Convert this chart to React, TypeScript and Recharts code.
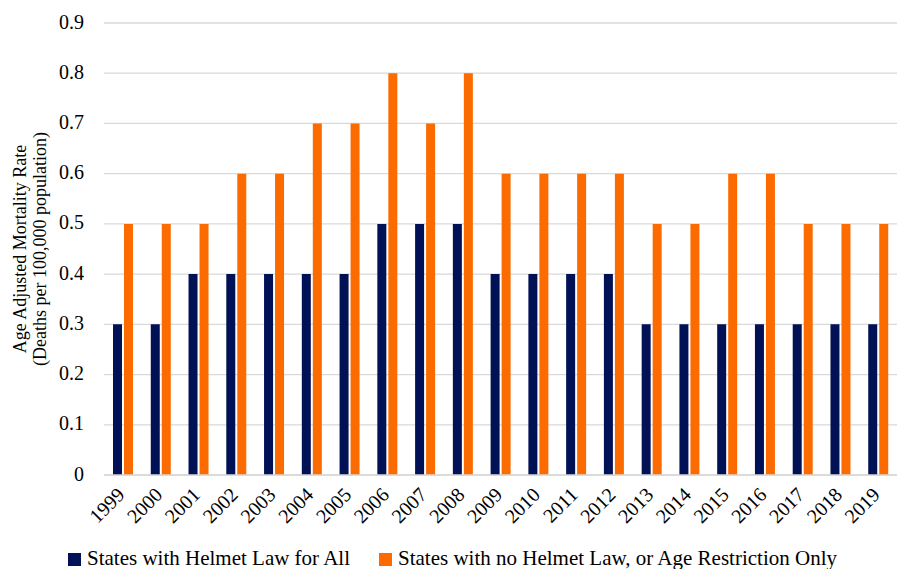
import React from "react";
import { BarChart, Bar, XAxis, YAxis, CartesianGrid, Legend } from "recharts";

const years = ["1999","2000","2001","2002","2003","2004","2005","2006","2007","2008","2009","2010","2011","2012","2013","2014","2015","2016","2017","2018","2019"];
const helmetAll = [0.3,0.3,0.4,0.4,0.4,0.4,0.4,0.5,0.5,0.5,0.4,0.4,0.4,0.4,0.3,0.3,0.3,0.3,0.3,0.3,0.3];
const noHelmet = [0.5,0.5,0.5,0.6,0.6,0.7,0.7,0.8,0.7,0.8,0.6,0.6,0.6,0.6,0.5,0.5,0.6,0.6,0.5,0.5,0.5];
const yTicks = [0,0.1,0.2,0.3,0.4,0.5,0.6,0.7,0.8,0.9];
const seriesNames = ["States with Helmet Law for All", "States with no Helmet Law, or Age Restriction Only"];

const NAVY = "#001155";
const ORANGE = "#fb6b00";
const FONT = "Liberation Serif";

const data = years.map((y, i) => ({ year: y, a: helmetAll[i], b: noHelmet[i] }));

const XTick = (props: any) => {
  const { x, y, payload } = props;
  return (
    <g transform={`translate(${x + 3},${y + 13})`}>
      <text textAnchor="end" transform="rotate(-45)" fontFamily={FONT} fontSize={20} fill="#000">
        {payload.value}
      </text>
    </g>
  );
};

const YTick = (props: any) => {
  const { x, y, payload } = props;
  return (
    <text x={x - 12} y={y} dy={5.5} textAnchor="end" fontFamily={FONT} fontSize={20} fill="#000">
      {payload.value === 0 ? "0" : payload.value.toFixed(1)}
    </text>
  );
};

const YTitle = (props: any) => {
  const vb = props.viewBox || {};
  const cy = vb.y + vb.height / 2;
  const cx = 26;
  return (
    <text transform={`translate(${cx},${cy}) rotate(-90)`} textAnchor="middle" fontFamily={FONT} fontSize={18} fill="#000">
      <tspan x={0} dy={0}>Age Adjusted Mortality Rate</tspan>
      <tspan x={0} dy={20}>(Deaths per 100,000 population)</tspan>
    </text>
  );
};

const LegendContent = () => {
  const colors = [NAVY, ORANGE];
  const lefts = [68, 379];
  return (
    <div style={{ position: "relative", height: 30, width: 902 }}>
      {seriesNames.map((n, i) => (
        <div key={n} style={{ position: "absolute", left: lefts[i], top: 0, height: 30, display: "flex", alignItems: "center", fontFamily: FONT, fontSize: 21, color: "#000", whiteSpace: "nowrap" }}>
          <span style={{ display: "inline-block", width: 13, height: 13, background: colors[i], marginRight: 6, marginTop: 2 }} />
          {n}
        </div>
      ))}
    </div>
  );
};

export default function App() {
  return (
    <div style={{ position: "absolute", left: 0, top: 0, background: "#fff" }}>
      <BarChart width={902} height={569} data={data} margin={{ top: 23, right: 5, left: 0, bottom: 0 }} barGap={2} barCategoryGap="35%">
        <CartesianGrid vertical={false} stroke="#d9d9d9" strokeWidth={1.3} />
        <XAxis dataKey="year" tick={<XTick />} tickLine={false} axisLine={{ stroke: "#d9d9d9", strokeWidth: 1.3 }} interval={0} height={64} />
        <YAxis domain={[0, 0.9]} ticks={yTicks} tick={<YTick />} tickLine={false} axisLine={false} width={104} label={<YTitle />} />
        <Legend verticalAlign="bottom" content={<LegendContent />} wrapperStyle={{ left: 0, top: 543 }} />
        <Bar dataKey="a" name={seriesNames[0]} fill={NAVY} barSize={9} isAnimationActive={false} />
        <Bar dataKey="b" name={seriesNames[1]} fill={ORANGE} barSize={9} isAnimationActive={false} />
      </BarChart>
    </div>
  );
}
